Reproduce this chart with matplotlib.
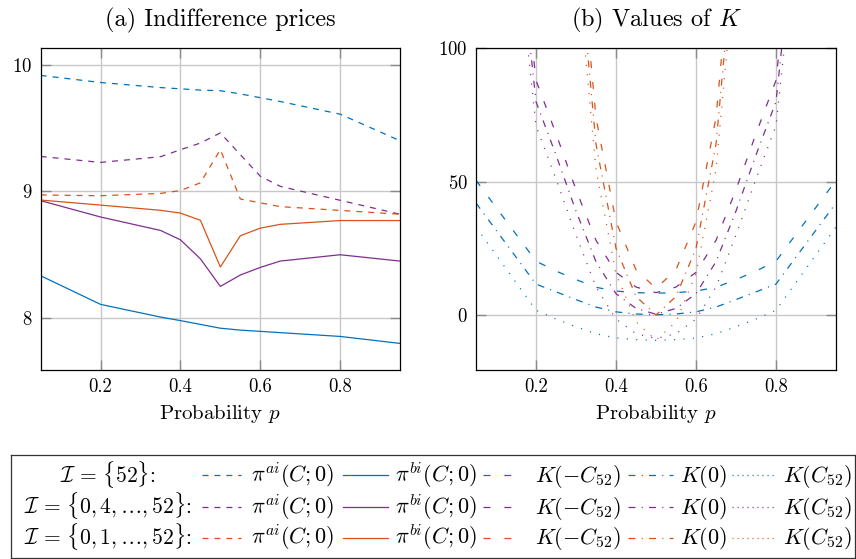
import matplotlib
matplotlib.use("Agg")
import matplotlib.pyplot as plt
from matplotlib.lines import Line2D

plt.rcParams['font.family'] = ['cmr10', 'DejaVu Serif']
plt.rcParams['mathtext.fontset'] = 'cm'
plt.rcParams['axes.unicode_minus'] = False
plt.rcParams['axes.formatter.use_mathtext'] = True
plt.rcParams['lines.scale_dashes'] = False

# ---------------- data ----------------
p_prices = [0.05, 0.2, 0.35, 0.4, 0.45, 0.5, 0.55, 0.6, 0.65, 0.8, 0.95]
ask_52 = [9.916, 9.86, 9.82, 9.81, 9.80, 9.795, 9.77, 9.74, 9.71, 9.61, 9.40]
bid_52 = [8.334, 8.108, 8.008, 7.98, 7.95, 7.92, 7.905, 7.895, 7.885, 7.855, 7.80]
ask_4 = [9.276, 9.229, 9.274, 9.329, 9.382, 9.462, 9.29, 9.12, 9.04, 8.93, 8.82]
bid_4 = [8.927, 8.798, 8.692, 8.618, 8.468, 8.25, 8.34, 8.40, 8.45, 8.50, 8.45]
ask_1 = [8.972, 8.966, 8.984, 9.007, 9.068, 9.33, 8.94, 8.91, 8.88, 8.85, 8.82]
bid_1 = [8.932, 8.892, 8.851, 8.829, 8.772, 8.403, 8.65, 8.71, 8.74, 8.77, 8.77]

p_K = [0.05, 0.2, 0.25, 0.3, 0.35, 0.4, 0.45, 0.5, 0.55, 0.6, 0.65, 0.7, 0.75, 0.8, 0.95]
K_neg_52 = [50.5, 20.2, 16.5, 13.3, 10.4, 9.0, 8.4, 8.2, 8.4, 9.0, 10.4, 13.3, 16.5, 20.2, 50.5]
K_zero_52 = [42.0, 11.6, 8.7, 5.8, 3.0, 1.2, 0.4, 0.1, 0.4, 1.2, 3.0, 5.8, 8.7, 11.6, 42.0]
K_pos_52 = [33.0, 1.8, -1.5, -4.4, -7.0, -8.6, -9.2, -9.5, -9.2, -8.6, -7.0, -4.4, -1.5, 1.8, 33.0]
K_neg_4 = [300, 88, 68, 47, 28, 16, 10.5, 8.4, 10.5, 16, 28, 47, 68, 88, 300]
K_zero_4 = [292, 80, 60, 39, 20, 8, 2.5, 0.3, 2.5, 8, 20, 39, 60, 80, 292]
K_pos_4 = [282, 71, 51, 30, 10.5, -1.5, -7.0, -8.8, -7.0, -1.5, 10.5, 30, 51, 71, 282]
K_neg_1 = [900, 420, 260, 156, 74, 35, 17, 10, 17, 35, 74, 156, 260, 420, 900]
K_zero_1 = [890, 410, 250, 146, 64, 25, 7, 0, 7, 25, 64, 146, 250, 410, 890]
K_pos_1 = [880, 400, 240, 136, 54.5, 15.5, -2.5, -9.5, -2.5, 15.5, 54.5, 136, 240, 400, 880]

x_ticks = [0.2, 0.4, 0.6, 0.8]
x_tick_labels = ['0.2', '0.4', '0.6', '0.8']
y_ticks_a = [8, 9, 10]
y_ticks_b = [0, 50, 100]

row_labels = [r'$\mathcal{I}\,=\,\{52\}$:', r'$\mathcal{I}\,=\,\{0,4,\ldots,52\}$:',
              r'$\mathcal{I}\,=\,\{0,1,\ldots,52\}$:']
col_labels = [r'$\pi^{ai}(C;0)$', r'$\pi^{bi}(C;0)$', r'$K(-C_{52})$', r'$K(0)$', r'$K(C_{52})$']

# ---------------- styles ----------------
BLUE = '#0072BD'
PURPLE = '#7E2F8E'
ORANGE = '#D95319'
colors = [BLUE, PURPLE, ORANGE]
LW = 0.9
DASHED = (0, (4.3, 4.3))
SOLID = '-'
LOOSE = (0, (5, 10))
DASHDOT = (0, (5, 4.5, 0.8, 4.5))
DOTTED = (0, (0.8, 6))
DOTTED_LEG = (0, (0.8, 2.8))

W, H = 856, 559
fig = plt.figure(figsize=(W / 100, H / 100), dpi=100)

def px_axes(x0, y0, x1, y1):
    return fig.add_axes([x0 / W, 1 - y1 / H, (x1 - x0) / W, (y1 - y0) / H])

FS_TICK = 13.5
FS_LAB = 15
FS_LEG = 16
FS_ROW = 15.5
FS_TITLE = 17.5

def style(ax):
    ax.set_xlim(0.05, 0.95)
    ax.set_xticks(x_ticks)
    ax.set_xticklabels(x_tick_labels)
    ax.grid(True, color='#c8c8c8', lw=1.0)
    ax.set_axisbelow(True)
    ax.tick_params(direction='in', length=7.5, width=1.0, color='#8a8a8a',
                   top=True, right=True, labelsize=FS_TICK, pad=6)
    for s in ax.spines.values():
        s.set_linewidth(0.9)
    ax.set_xlabel(r'Probability $p$', fontsize=FS_LAB, labelpad=5)

# (a)
ax1 = px_axes(40.7, 48.3, 400, 370)
ax1.plot(p_prices, ask_52, color=BLUE, lw=LW, ls=DASHED)
ax1.plot(p_prices, bid_52, color=BLUE, lw=LW, ls=SOLID)
ax1.plot(p_prices, ask_4, color=PURPLE, lw=LW, ls=DASHED)
ax1.plot(p_prices, bid_4, color=PURPLE, lw=LW, ls=SOLID)
ax1.plot(p_prices, ask_1, color=ORANGE, lw=LW, ls=DASHED)
ax1.plot(p_prices, bid_1, color=ORANGE, lw=LW, ls=SOLID)
ax1.set_ylim(7.59, 10.13)
ax1.set_yticks(y_ticks_a)
style(ax1)
ax1.set_title('(a) Indifference prices', fontsize=FS_TITLE, pad=16)

# (b)
ax2 = px_axes(476, 48.3, 836, 370)
for c, kn, kz, kp in [(BLUE, K_neg_52, K_zero_52, K_pos_52),
                      (PURPLE, K_neg_4, K_zero_4, K_pos_4),
                      (ORANGE, K_neg_1, K_zero_1, K_pos_1)]:
    ax2.plot(p_K, kn, color=c, lw=LW, ls=LOOSE)
    ax2.plot(p_K, kz, color=c, lw=LW, ls=DASHDOT)
    ax2.plot(p_K, kp, color=c, lw=LW, ls=DOTTED)
ax2.set_ylim(-20.6, 100)
ax2.set_yticks(y_ticks_b)
style(ax2)
ax2.set_title(r'(b) Values of $K$', fontsize=FS_TITLE, pad=16)

# legend box
lg = px_axes(10.7, 455, 855, 558)
lg.set_xlim(10.7, 855)
lg.set_ylim(558, 455)
lg.set_xticks([])
lg.set_yticks([])
for s in lg.spines.values():
    s.set_linewidth(0.9)
    s.set_color('#333333')

row_base = [482.5, 513.5, 544.5]
row_mid = [475, 506.5, 537.5]
samples = [((202, 241), DASHED), ((343, 388), SOLID), ((483, 517), LOOSE),
           ((628, 673), DASHDOT), ((732, 777), DOTTED_LEG)]
text_x = [251, 395, 535, 680, 783]
for r in range(3):
    lg.text(108, row_base[r], row_labels[r], ha='center', va='baseline', fontsize=FS_ROW)
    for (xs, ls), tx, lab in zip(samples, text_x, col_labels):
        lg.add_line(Line2D(list(xs), [row_mid[r], row_mid[r]], color=colors[r], lw=LW, ls=ls))
        lg.text(tx, row_base[r], lab, ha='left', va='baseline', fontsize=FS_LEG)

fig.savefig('out.png', dpi=100)
